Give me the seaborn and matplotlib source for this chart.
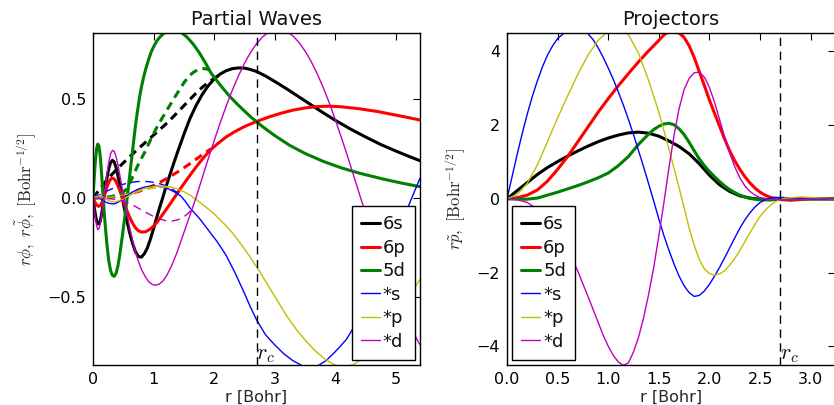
import matplotlib
matplotlib.use("Agg")
import matplotlib.pyplot as plt
import seaborn as sns

rcut = 2.7

# ---------------- partial waves r*phi (all-electron, solid) ----------------
r_6s = [0, 0.02, 0.04, 0.06, 0.08, 0.1, 0.12, 0.14, 0.17, 0.2, 0.23, 0.26, 0.29, 0.32, 0.35,
        0.38, 0.41, 0.44, 0.47, 0.5, 0.55, 0.6, 0.65, 0.7, 0.75, 0.8, 0.85, 0.9, 0.95, 1.0,
        1.05, 1.1, 1.15, 1.2, 1.3, 1.4, 1.5, 1.6, 1.7, 1.8, 1.9, 2.0, 2.1, 2.2, 2.3, 2.4, 2.5,
        2.6, 2.7, 2.85, 3.0, 3.2, 3.4, 3.6, 3.8, 4.0, 4.25, 4.5, 4.75, 5.0, 5.2, 5.4]
phi_6s = [0, -0.045, -0.085, -0.115, -0.13, -0.13, -0.115, -0.085, -0.025, 0.04, 0.1, 0.148,
          0.178, 0.19, 0.182, 0.155, 0.115, 0.068, 0.02, -0.025, -0.1, -0.17, -0.225, -0.27,
          -0.295, -0.298, -0.28, -0.25, -0.205, -0.155, -0.1, -0.048, 0.0, 0.052, 0.145, 0.235,
          0.32, 0.4, 0.465, 0.52, 0.565, 0.6, 0.625, 0.642, 0.652, 0.656, 0.655, 0.648, 0.638,
          0.615, 0.588, 0.55, 0.51, 0.47, 0.43, 0.392, 0.348, 0.308, 0.27, 0.237, 0.212, 0.188]

r_6p = [0, 0.03, 0.06, 0.09, 0.12, 0.15, 0.18, 0.21, 0.24, 0.27, 0.3, 0.33, 0.36, 0.4, 0.44,
        0.48, 0.52, 0.56, 0.6, 0.65, 0.7, 0.75, 0.8, 0.87, 0.94, 1.0, 1.07, 1.15, 1.25, 1.35,
        1.45, 1.55, 1.65, 1.75, 1.85, 1.95, 2.05, 2.2, 2.35, 2.5, 2.7, 2.9, 3.1, 3.3, 3.5, 3.7,
        3.9, 4.1, 4.4, 4.7, 5.0, 5.2, 5.4]
phi_6p = [0, -0.02, -0.035, -0.042, -0.038, -0.022, 0.005, 0.035, 0.063, 0.085, 0.098, 0.1,
          0.093, 0.07, 0.04, 0.005, -0.03, -0.063, -0.093, -0.125, -0.15, -0.165, -0.172, -0.17,
          -0.158, -0.142, -0.117, -0.083, -0.04, 0.005, 0.05, 0.093, 0.135, 0.175, 0.212, 0.245,
          0.272, 0.308, 0.336, 0.36, 0.386, 0.408, 0.427, 0.443, 0.454, 0.461, 0.463, 0.46,
          0.45, 0.436, 0.418, 0.406, 0.393]

r_5d = [0, 0.02, 0.04, 0.06, 0.08, 0.1, 0.12, 0.14, 0.16, 0.18, 0.2, 0.23, 0.26, 0.29, 0.32,
        0.35, 0.38, 0.41, 0.44, 0.47, 0.5, 0.53, 0.56, 0.59, 0.62, 0.65, 0.68, 0.71, 0.74, 0.77,
        0.8, 0.84, 0.88, 0.92, 0.96, 1.0, 1.05, 1.1, 1.15, 1.2, 1.27, 1.35, 1.45, 1.55, 1.65,
        1.75, 1.85, 1.95, 2.1, 2.25, 2.4, 2.6, 2.8, 3.0, 3.25, 3.5, 3.8, 4.1, 4.4, 4.8, 5.1, 5.4]
phi_5d = [0, 0.1, 0.19, 0.25, 0.272, 0.26, 0.21, 0.13, 0.04, -0.05, -0.13, -0.235, -0.315,
          -0.365, -0.39, -0.395, -0.38, -0.345, -0.29, -0.225, -0.155, -0.085, -0.01, 0.07,
          0.15, 0.23, 0.31, 0.385, 0.45, 0.51, 0.56, 0.615, 0.66, 0.7, 0.735, 0.762, 0.79, 0.81,
          0.825, 0.836, 0.845, 0.846, 0.836, 0.812, 0.778, 0.735, 0.685, 0.63, 0.57, 0.515,
          0.468, 0.41, 0.36, 0.315, 0.265, 0.225, 0.185, 0.152, 0.125, 0.095, 0.075, 0.057]

r_xs = [0, 0.04, 0.08, 0.12, 0.17, 0.22, 0.28, 0.34, 0.4, 0.46, 0.55, 0.65, 0.75, 0.85, 0.95,
        1.05, 1.15, 1.25, 1.35, 1.45, 1.52, 1.6, 1.75, 1.9, 2.05, 2.2, 2.35, 2.5, 2.6, 2.7,
        2.85, 3.0, 3.15, 3.3, 3.45, 3.55, 3.7, 3.85, 4.0, 4.18, 4.35, 4.5, 4.65, 4.8, 4.95,
        5.1, 5.25, 5.4]
phi_xs = [0, 0.015, 0.012, -0.002, -0.015, -0.022, -0.028, -0.03, -0.024, -0.012, 0.01, 0.03,
          0.045, 0.055, 0.06, 0.06, 0.055, 0.045, 0.03, 0.01, -0.015, -0.05, -0.1, -0.16, -0.22,
          -0.29, -0.38, -0.48, -0.55, -0.614, -0.69, -0.74, -0.785, -0.82, -0.845, -0.855,
          -0.848, -0.82, -0.775, -0.715, -0.63, -0.545, -0.45, -0.35, -0.24, -0.125, -0.01, 0.1]

r_xp = [0, 0.05, 0.1, 0.15, 0.2, 0.25, 0.3, 0.35, 0.4, 0.5, 0.6, 0.7, 0.8, 0.9, 1.0, 1.1, 1.2,
        1.3, 1.4, 1.5, 1.6, 1.7, 1.8, 1.9, 2.0, 2.15, 2.3, 2.45, 2.6, 2.75, 2.9, 3.05, 3.2,
        3.35, 3.5, 3.65, 3.8, 3.95, 4.05, 4.15, 4.3, 4.45, 4.6, 4.8, 5.0, 5.2, 5.4]
phi_xp = [0, 0.008, 0.01, 0.005, -0.003, -0.012, -0.018, -0.02, -0.017, -0.005, 0.012, 0.028,
          0.042, 0.052, 0.058, 0.06, 0.059, 0.054, 0.045, 0.032, 0.015, -0.006, -0.03, -0.055,
          -0.08, -0.125, -0.175, -0.235, -0.3, -0.37, -0.445, -0.52, -0.595, -0.66, -0.715,
          -0.765, -0.805, -0.835, -0.848, -0.852, -0.84, -0.81, -0.765, -0.69, -0.6, -0.505,
          -0.41]

r_xd = [0, 0.02, 0.04, 0.06, 0.08, 0.1, 0.12, 0.14, 0.17, 0.2, 0.23, 0.26, 0.29, 0.32, 0.35,
        0.38, 0.41, 0.44, 0.47, 0.5, 0.55, 0.6, 0.65, 0.7, 0.75, 0.8, 0.86, 0.92, 0.98, 1.03,
        1.09, 1.15, 1.22, 1.3, 1.38, 1.46, 1.54, 1.62, 1.7, 1.8, 1.9, 2.0, 2.1, 2.2, 2.3, 2.4,
        2.5, 2.6, 2.7, 2.8, 2.9, 3.0, 3.1, 3.2, 3.3, 3.4, 3.5, 3.6, 3.7, 3.8, 3.9, 4.0, 4.1,
        4.2, 4.3, 4.42, 4.55, 4.7, 4.85, 5.0, 5.2, 5.4]
phi_xd = [0, -0.05, -0.1, -0.14, -0.16, -0.155, -0.13, -0.09, -0.02, 0.05, 0.12, 0.18, 0.222,
          0.24, 0.235, 0.21, 0.17, 0.12, 0.07, 0.02, -0.06, -0.14, -0.21, -0.27, -0.32, -0.36,
          -0.395, -0.422, -0.436, -0.44, -0.435, -0.42, -0.39, -0.34, -0.28, -0.21, -0.14,
          -0.07, 0.0, 0.098, 0.195, 0.289, 0.379, 0.464, 0.543, 0.615, 0.678, 0.733, 0.778,
          0.812, 0.836, 0.848, 0.849, 0.839, 0.818, 0.785, 0.742, 0.69, 0.628, 0.559, 0.481,
          0.396, 0.306, 0.214, 0.117, 0.0, -0.12, -0.26, -0.39, -0.5, -0.63, -0.74]

# ---------------- pseudo partial waves r*phi~ (dashed) ----------------
r_6s_ps = [0, 0.1, 0.2, 0.3, 0.4, 0.5, 0.6, 0.7, 0.8, 0.9, 1.0, 1.1, 1.2, 1.3, 1.4, 1.5, 1.6,
           1.7, 1.8, 1.9, 2.0, 2.1]
ps_6s = [0, 0.04, 0.08, 0.115, 0.147, 0.177, 0.206, 0.235, 0.263, 0.29, 0.317, 0.344, 0.372,
         0.402, 0.433, 0.465, 0.497, 0.528, 0.557, 0.582, 0.603, 0.622]

r_6p_ps = [0, 0.2, 0.4, 0.6, 0.8, 0.9, 1.0, 1.1, 1.2, 1.3, 1.4, 1.5, 1.6, 1.7, 1.8, 1.9, 1.95]
ps_6p = [0, 0.002, 0.008, 0.02, 0.038, 0.05, 0.063, 0.078, 0.095, 0.113, 0.132, 0.152, 0.173,
         0.195, 0.217, 0.238, 0.248]

r_5d_ps = [0, 0.2, 0.3, 0.4, 0.5, 0.55, 0.6, 0.66, 0.73, 0.8, 0.87, 0.96, 1.06, 1.14, 1.22,
           1.29, 1.36, 1.44, 1.51, 1.58, 1.65, 1.72, 1.79, 1.86, 1.92]
ps_5d = [0, 0.003, 0.007, 0.015, 0.03, 0.045, 0.07, 0.11, 0.158, 0.2, 0.24, 0.3, 0.36, 0.402,
         0.443, 0.478, 0.513, 0.552, 0.585, 0.612, 0.632, 0.645, 0.652, 0.652, 0.646]

r_xs_ps = [0, 0.1, 0.2, 0.3, 0.4, 0.5, 0.6, 0.7, 0.8, 0.9, 1.0, 1.1, 1.2, 1.3, 1.4, 1.45]
ps_xs = [0, 0.015, 0.03, 0.045, 0.058, 0.069, 0.077, 0.082, 0.084, 0.083, 0.079, 0.072, 0.062,
         0.046, 0.026, 0.012]

r_xp_ps = [0, 0.3, 0.5, 0.7, 0.9, 1.1, 1.3]
ps_xp = [0, 0.005, 0.015, 0.03, 0.045, 0.055, 0.055]

r_xd_ps = [0, 0.2, 0.4, 0.5, 0.6, 0.7, 0.8, 0.9, 1.0, 1.1, 1.2, 1.3, 1.4, 1.5, 1.58, 1.65]
ps_xd = [0, -0.001, -0.008, -0.016, -0.028, -0.043, -0.06, -0.077, -0.093, -0.106, -0.114,
         -0.116, -0.11, -0.095, -0.075, -0.05]

# ---------------- projectors r*p~ ----------------
rp_6s = [0, 0.1, 0.2, 0.3, 0.4, 0.5, 0.6, 0.7, 0.8, 0.9, 1.0, 1.1, 1.2, 1.3, 1.4, 1.5, 1.6, 1.7,
         1.8, 1.9, 2.0, 2.1, 2.2, 2.3, 2.4, 2.5, 2.6, 2.7, 2.8, 3.24]
p_6s = [0, 0.22, 0.44, 0.66, 0.85, 1.01, 1.16, 1.3, 1.43, 1.55, 1.65, 1.73, 1.79, 1.81, 1.78,
        1.7, 1.57, 1.42, 1.22, 0.95, 0.64, 0.38, 0.2, 0.08, 0.02, -0.01, -0.02, -0.01, 0, 0]

rp_6p = [0, 0.1, 0.2, 0.3, 0.4, 0.5, 0.6, 0.7, 0.8, 0.9, 1.0, 1.1, 1.2, 1.3, 1.4, 1.5, 1.55,
         1.6, 1.65, 1.7, 1.75, 1.8, 1.85, 1.9, 1.95, 2.0, 2.05, 2.1, 2.15, 2.2, 2.25, 2.3, 2.35,
         2.4, 2.45, 2.5, 2.55, 2.6, 2.7, 2.8, 2.9, 3.0, 3.24]
p_6p = [0, 0.03, 0.1, 0.24, 0.48, 0.8, 1.15, 1.55, 1.95, 2.35, 2.72, 3.07, 3.4, 3.72, 4.02, 4.3,
        4.45, 4.53, 4.55, 4.5, 4.38, 4.15, 3.83, 3.45, 3.07, 2.68, 2.32, 1.97, 1.62, 1.3, 1.03,
        0.8, 0.6, 0.43, 0.29, 0.18, 0.1, 0.04, -0.02, -0.04, -0.02, 0, 0]

rp_5d = [0, 0.1, 0.2, 0.3, 0.4, 0.5, 0.6, 0.7, 0.8, 0.9, 1.0, 1.1, 1.2, 1.3, 1.4, 1.45, 1.5,
         1.55, 1.6, 1.65, 1.7, 1.75, 1.8, 1.85, 1.9, 1.95, 2.0, 2.05, 2.1, 2.15, 2.2, 2.25, 2.3,
         2.35, 2.4, 2.5, 2.6, 2.7, 2.8, 3.24]
p_5d = [0, -0.01, -0.01, 0.02, 0.1, 0.18, 0.27, 0.36, 0.46, 0.57, 0.7, 0.9, 1.15, 1.48, 1.76,
        1.88, 1.97, 2.03, 2.05, 2.01, 1.9, 1.74, 1.53, 1.3, 1.08, 0.9, 0.74, 0.6, 0.47, 0.35,
        0.25, 0.17, 0.1, 0.05, 0.01, -0.03, -0.03, -0.01, 0, 0]

rp_xs = [0, 0.05, 0.1, 0.15, 0.2, 0.25, 0.3, 0.35, 0.4, 0.45, 0.5, 0.6, 0.7, 0.8, 0.85, 0.9,
         0.95, 1.0, 1.05, 1.1, 1.15, 1.2, 1.25, 1.3, 1.35, 1.4, 1.45, 1.5, 1.55, 1.6, 1.65, 1.7,
         1.75, 1.8, 1.85, 1.9, 1.95, 2.0, 2.05, 2.1, 2.15, 2.2, 2.25, 2.3, 2.35, 2.4, 2.45,
         2.5, 2.55, 2.6, 2.65, 2.8, 3.0, 3.24]
p_xs = [0, 0.6, 1.2, 1.77, 2.3, 2.78, 3.2, 3.58, 3.9, 4.15, 4.35, 4.58, 4.62, 4.48, 4.32, 4.1,
        3.84, 3.55, 3.24, 2.9, 2.54, 2.15, 1.74, 1.3, 0.86, 0.4, -0.07, -0.55, -1.0, -1.4,
        -1.77, -2.1, -2.36, -2.55, -2.65, -2.62, -2.5, -2.32, -2.1, -1.86, -1.6, -1.33, -1.06,
        -0.8, -0.57, -0.38, -0.22, -0.1, -0.02, 0.02, 0.04, 0.03, 0.01, 0]

rp_xp = [0, 0.1, 0.2, 0.3, 0.4, 0.5, 0.6, 0.7, 0.8, 0.9, 1.0, 1.1, 1.2, 1.3, 1.4, 1.5, 1.6, 1.7,
         1.75, 1.8, 1.85, 1.9, 1.95, 2.0, 2.05, 2.1, 2.15, 2.2, 2.25, 2.3, 2.35, 2.4, 2.45, 2.5,
         2.55, 2.6, 2.65, 2.7, 2.75, 2.9, 3.1, 3.24]
p_xp = [0, 0.12, 0.42, 0.92, 1.55, 2.2, 2.8, 3.38, 3.9, 4.3, 4.55, 4.62, 4.45, 3.95, 3.2, 2.35,
        1.35, 0.3, -0.25, -0.8, -1.27, -1.65, -1.9, -2.03, -2.07, -2.04, -1.95, -1.8, -1.62,
        -1.4, -1.16, -0.92, -0.69, -0.48, -0.31, -0.18, -0.08, -0.02, 0.02, 0.05, 0.02, 0]

rp_xd = [0, 0.1, 0.2, 0.3, 0.4, 0.5, 0.6, 0.7, 0.8, 0.9, 0.95, 1.0, 1.05, 1.1, 1.15, 1.2, 1.25,
         1.3, 1.35, 1.4, 1.45, 1.5, 1.55, 1.6, 1.65, 1.7, 1.75, 1.8, 1.85, 1.9, 1.95, 2.0, 2.05,
         2.1, 2.15, 2.2, 2.25, 2.3, 2.35, 2.4, 2.45, 2.5, 2.6, 2.8, 3.0, 3.24]
p_xd = [0, -0.02, -0.1, -0.28, -0.56, -0.93, -1.38, -1.97, -2.65, -3.35, -3.7, -4.0, -4.25,
        -4.43, -4.52, -4.45, -4.15, -3.75, -3.22, -2.58, -1.85, -1.0, -0.1, 0.85, 1.72, 2.45,
        2.97, 3.27, 3.42, 3.44, 3.3, 3.02, 2.62, 2.15, 1.68, 1.24, 0.87, 0.57, 0.35, 0.2, 0.1,
        0.03, -0.02, -0.03, 0, 0]

labels = ["6s", "6p", "5d", "*s", "*p", "*d"]
colors = ["k", "r", "g", "b", "y", "m"]
widths = [2.2, 2.2, 2.2, 1.0, 1.0, 1.0]

sns.set_style("white")
plt.rcParams.update({
    "font.family": ["DejaVu Sans"],
    "mathtext.fontset": "cm",
    "xtick.direction": "in",
    "ytick.direction": "in",
    "xtick.top": True,
    "ytick.right": True,
    "xtick.major.size": 5,
    "ytick.major.size": 5,
    "xtick.major.width": 0.8,
    "ytick.major.width": 0.8,
    "xtick.color": "black",
    "ytick.color": "black",
    "axes.edgecolor": "black",
    "axes.linewidth": 1.0,
    "lines.scale_dashes": False,
    "lines.dashed_pattern": [6, 4],
    "text.color": "#111111",
})

fig = plt.figure(figsize=(8.34, 4.05), dpi=100)
ax1 = fig.add_axes([93 / 834, 40 / 405, 327 / 834, 332 / 405])
ax2 = fig.add_axes([507 / 834, 40 / 405, 328 / 834, 332 / 405])


def curve(ax, r, y, color, lw, ls="-", label=None):
    sns.lineplot(x=r, y=y, ax=ax, color=color, linewidth=lw, linestyle=ls,
                 label=label, estimator=None, sort=False)


# Partial waves panel
ae = [(r_6s, phi_6s), (r_6p, phi_6p), (r_5d, phi_5d),
      (r_xs, phi_xs), (r_xp, phi_xp), (r_xd, phi_xd)]
ps = [(r_6s_ps, ps_6s), (r_6p_ps, ps_6p), (r_5d_ps, ps_5d),
      (r_xs_ps, ps_xs), (r_xp_ps, ps_xp), (r_xd_ps, ps_xd)]
for (r, y), (rt, yt), c, w, lab in zip(ae, ps, colors, widths, labels):
    curve(ax1, r, y, c, w, label=lab)
    curve(ax1, rt, yt, c, w, ls="--")

ax1.set_xlim(0, 2 * rcut)
ax1.set_ylim(-0.842, 0.832)
ax1.set_xticks([0, 1, 2, 3, 4, 5])
ax1.set_yticks([-0.5, 0.0, 0.5])
ax1.set_yticklabels(["\u22120.5", "0.0", "0.5"])
ax1.axvline(rcut, color="k", lw=1.0, ls="--")
ax1.text(rcut, -0.842, r"$r_c$", fontsize=16, ha="left", va="bottom")
ax1.set_title("Partial Waves", fontsize=14)
ax1.set_xlabel("r [Bohr]", fontsize=11.5, labelpad=2)
ax1.set_ylabel(r"$r\phi,\ r\tilde{\phi},\ [\mathrm{Bohr}^{-1/2}]$", fontsize=12, labelpad=6)

# Projectors panel
proj = [(rp_6s, p_6s), (rp_6p, p_6p), (rp_5d, p_5d),
        (rp_xs, p_xs), (rp_xp, p_xp), (rp_xd, p_xd)]
for (r, y), c, w, lab in zip(proj, colors, widths, labels):
    curve(ax2, r, y, c, w, label=lab)

ax2.set_xlim(0, 1.2 * rcut)
ax2.set_ylim(-4.51, 4.5)
ax2.set_xticks([0.0, 0.5, 1.0, 1.5, 2.0, 2.5, 3.0])
ax2.set_xticklabels(["0.0", "0.5", "1.0", "1.5", "2.0", "2.5", "3.0"])
ax2.set_yticks([-4, -2, 0, 2, 4])
ax2.axvline(rcut, color="k", lw=1.0, ls="--")
ax2.text(rcut, -4.51, r"$r_c$", fontsize=16, ha="left", va="bottom")
ax2.set_title("Projectors", fontsize=14)
ax2.set_xlabel("r [Bohr]", fontsize=11.5, labelpad=2)
ax2.set_ylabel(r"$r\tilde{p},\ [\mathrm{Bohr}^{-1/2}]$", fontsize=12, labelpad=6)

for ax, loc in ((ax1, "lower right"), (ax2, "lower left")):
    ax.tick_params(labelsize=11.5, pad=5)
    for s in ax.spines.values():
        s.set_visible(True)
        s.set_color("black")
    leg = ax.legend(loc=loc, fontsize=13, handlelength=1.05, handletextpad=0.15,
                    labelspacing=0.3, borderpad=0.5, borderaxespad=0.3,
                    fancybox=False, framealpha=1.0, edgecolor="black")
    leg.get_frame().set_linewidth(1.0)

fig.savefig("out.png", dpi=100)
